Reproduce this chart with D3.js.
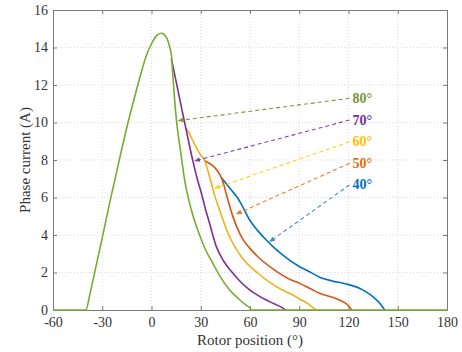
<!DOCTYPE html>
<html><head><meta charset="utf-8">
<script src="https://cdn.jsdelivr.net/npm/d3@7"></script>
<style>
body{margin:0;background:#fff}
svg text{font-family:"Liberation Serif","Tinos","Times New Roman",Times,"DejaVu Serif",serif !important;}
</style>
</head><body>
<script>
// ---- data ----
const xTicks = [-60, -30, 0, 30, 60, 90, 120, 150, 180];
const yTicks = [0, 2, 4, 6, 8, 10, 12, 14, 16];

// 80° (green) full curve
const theta80 = [-60, -40, -37.5, -35, -30, -25, -20, -15, -10, -6, -3, 0, 3, 6, 9, 11, 12.1, 13.1, 14.1, 15.2, 17.6, 20.2, 24.3, 29.3, 33, 37.4, 42, 47.6, 53, 57, 59.8, 61, 120, 180];
const current80 = [0, 0, 0.85, 1.85, 3.85, 5.9, 7.85, 9.75, 11.45, 12.75, 13.6, 14.2, 14.62, 14.76, 14.55, 14.05, 13.6, 12.4, 11.2, 10.13, 8.53, 6.93, 5.33, 4.0, 3.2, 2.49, 1.75, 1.07, 0.6, 0.3, 0.12, 0, 0, 0];
// 70° (purple), from its branch on the green curve
const theta70 = [12.1, 17.2, 22.2, 25.3, 28.3, 30.5, 32.8, 34.8, 39.5, 44, 49.6, 54.5, 59.8, 64.8, 69.9, 75, 80, 81.5];
const current70 = [13.42, 11.25, 9.15, 7.91, 6.85, 6.2, 5.4, 4.8, 3.38, 2.6, 1.96, 1.48, 1.07, 0.78, 0.53, 0.32, 0.1, 0];
// 60° (yellow)
const theta60 = [20.6, 22.2, 25.3, 29.3, 32.4, 35.4, 38.5, 41.5, 46.6, 54.7, 64.8, 75, 80, 85, 90, 95, 98, 100.5];
const current60 = [9.7, 9.55, 9.0, 8.35, 7.96, 7.11, 6.1, 5.33, 4.09, 2.84, 1.96, 1.3, 1.05, 0.85, 0.6, 0.35, 0.15, 0];
// 50° (red)
const theta50 = [32.4, 42.5, 44.6, 46.6, 49.6, 54.7, 59.8, 64.8, 75, 85.1, 90.2, 96.3, 102.4, 108.5, 114.5, 119.6, 122];
const current50 = [7.96, 7.07, 6.5, 5.85, 4.98, 3.91, 3.3, 2.84, 2.13, 1.6, 1.42, 1.16, 0.89, 0.72, 0.53, 0.27, 0];
// 40° (blue)
const theta40 = [42.5, 48.6, 52.6, 54.7, 59.8, 64.8, 69.9, 75, 80, 90.2, 96.3, 102.4, 110, 118, 126.7, 131, 134.8, 139.9, 142];
const current40 = [7.07, 6.4, 5.96, 5.65, 4.8, 4.22, 3.73, 3.3, 2.93, 2.31, 2.04, 1.75, 1.55, 1.4, 1.16, 0.95, 0.71, 0.27, 0];

// annotation labels and arrow targets (data units)
const annoLabels = ["80°", "70°", "60°", "50°", "40°"];
const annoStartTheta = [120.6, 120.6, 120.6, 120.6, 120.6];
const annoStartI = [11.29, 10.13, 8.97, 7.82, 6.67];
const annoEndTheta = [16.3, 26.3, 38.5, 51.7, 71.9];
const annoEndI = [10.1, 7.95, 6.49, 5.12, 3.64];

// ---- styles ----
const lineColors = {"80":"#77AC30","70":"#7E2F8E","60":"#EDB120","50":"#D95319","40":"#0072BD"};
const labelColors = ["#77933C", "#7030A0", "#FFC000", "#E46C0A", "#0070C0"];
const arrowColors = ["#8E8E3C", "#8040B0", "#FFD21E", "#E87B2A", "#4F86C6"];

const W = 462, H = 352;
const m = {left: 53, right: 15, top: 10, bottom: 42};
const svg = d3.select("body").append("svg").attr("width", W).attr("height", H);

const x = d3.scaleLinear().domain([-60, 180]).range([m.left, W - m.right]);
const y = d3.scaleLinear().domain([0, 16]).range([H - m.bottom, m.top]);

// grid
const g = svg.append("g");
g.selectAll(".gx").data(xTicks.slice(1, -1)).join("line")
  .attr("x1", d => x(d)).attr("x2", d => x(d)).attr("y1", y(0)).attr("y2", y(16))
  .attr("stroke", "#d4d4d4").attr("stroke-width", 0.8).attr("stroke-dasharray", "1,2");
g.selectAll(".gy").data(yTicks.slice(1, -1)).join("line")
  .attr("y1", d => y(d)).attr("y2", d => y(d)).attr("x1", x(-60)).attr("x2", x(180))
  .attr("stroke", "#d4d4d4").attr("stroke-width", 0.8).attr("stroke-dasharray", "1,2");

// axes
const fmt = d => String(d);
const axB = d3.axisBottom(x).tickValues(xTicks).tickFormat(fmt).tickSizeInner(-4).tickSizeOuter(0).tickPadding(7);
const axL = d3.axisLeft(y).tickValues(yTicks).tickFormat(fmt).tickSizeInner(-4).tickSizeOuter(0).tickPadding(5);
const axT = d3.axisTop(x).tickValues(xTicks).tickSizeInner(-4).tickSizeOuter(0).tickFormat("");
const axR = d3.axisRight(y).tickValues(yTicks).tickSizeInner(-4).tickSizeOuter(0).tickFormat("");
function styleAx(sel) {
  sel.selectAll("path").attr("stroke", "#7a7a7a").attr("stroke-width", 1);
  sel.selectAll("line").attr("stroke", "#7a7a7a");
  sel.selectAll("text").attr("fill", "#333").attr("font-size", 14);
}
svg.append("g").attr("transform", `translate(0,${y(0)})`).call(axB).call(styleAx);
const gl = svg.append("g").attr("transform", `translate(${x(-60)},0)`).call(axL).call(styleAx);
svg.append("g").attr("transform", `translate(0,${y(16)})`).call(axT).call(styleAx);
svg.append("g").attr("transform", `translate(${x(180)},0)`).call(axR).call(styleAx);

// axis titles
svg.append("text").attr("x", (x(-60) + x(180)) / 2).attr("y", 345).attr("text-anchor", "middle")
  .attr("font-size", 15).attr("fill", "#333").text("Rotor position (°)");
svg.append("text").attr("transform", `translate(30,${(y(0) + y(16)) / 2}) rotate(-90)`)
  .attr("text-anchor", "middle").attr("font-size", 15).attr("fill", "#333").text("Phase current (A)");

// curves
const line = d3.line().x(d => x(d[0])).y(d => y(d[1])).curve(d3.curveMonotoneX);
const series = [
  ["40", theta40, current40],
  ["50", theta50, current50],
  ["60", theta60, current60],
  ["70", theta70, current70],
  ["80", theta80, current80]
];
series.forEach(([k, th, cu]) => {
  svg.append("path").datum(th.map((t, i) => [t, cu[i]]))
    .attr("d", line).attr("fill", "none").attr("stroke", lineColors[k]).attr("stroke-width", 1.6)
    .attr("stroke-linejoin", "round");
});

// arrow markers
const defs = svg.append("defs");
arrowColors.forEach((c, i) => {
  defs.append("marker").attr("id", "ah" + i).attr("viewBox", "0 0 10 10")
    .attr("refX", 9).attr("refY", 5).attr("markerWidth", 6).attr("markerHeight", 6)
    .attr("markerUnits", "userSpaceOnUse").attr("orient", "auto")
    .append("path").attr("d", "M0,1 L10,5 L0,9 Z").attr("fill", c);
});

// annotations
annoLabels.forEach((lab, i) => {
  svg.append("line")
    .attr("x1", x(annoStartTheta[i])).attr("y1", y(annoStartI[i]))
    .attr("x2", x(annoEndTheta[i])).attr("y2", y(annoEndI[i]))
    .attr("stroke", arrowColors[i]).attr("stroke-width", 1.1)
    .attr("stroke-dasharray", "4,3").attr("marker-end", `url(#ah${i})`);
  svg.append("text").attr("x", x(annoStartTheta[i]) + 3).attr("y", y(annoStartI[i]) + 4.5)
    .attr("font-size", 14).attr("font-weight", "bold").attr("fill", labelColors[i]).text(lab);
});
</script>
</body></html>
